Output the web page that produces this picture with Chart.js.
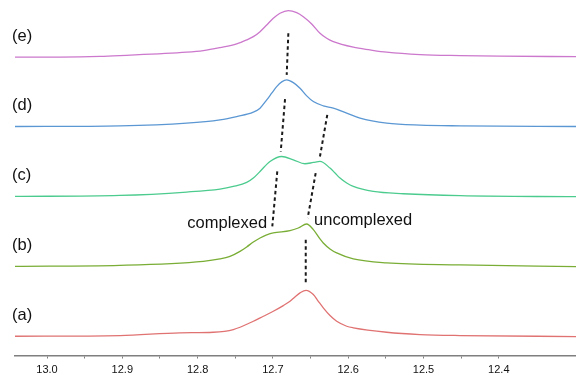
<!DOCTYPE html>
<html>
<head>
<meta charset="utf-8">
<script src="https://cdn.jsdelivr.net/npm/chart.js@4.4.1/dist/chart.umd.min.js"></script>
<style>
html,body{margin:0;padding:0;background:#fff;}
#wrap{width:576px;height:375px;position:relative;}
</style>
</head>
<body>
<div id="wrap"><canvas id="c" width="576" height="375"></canvas></div>
<script>
// ---- data (chemical shift in ppm, intensity above each trace's baseline) ----
const labelsSpectra = ['(a)', '(b)', '(c)', '(d)', '(e)'];
const offsets = [19, 89, 159, 229, 298.5];
const colors = ['#e07272', '#79ad35', '#4ccb8e', '#5b97d3', '#cc78cc'];

const ppmA = [13.0425, 12.9031, 12.8234, 12.7791, 12.7526, 12.7260, 12.7127, 12.6995, 12.6862, 12.6773, 12.6707, 12.6640, 12.6560, 12.6463, 12.6397, 12.6331, 12.6242, 12.6153, 12.6020, 12.5932, 12.5489, 12.5046, 12.4515, 12.2975];
const intA = [0.3, 1.0, 3.7, 4.3, 7.0, 15.3, 20.3, 25.3, 31.0, 35.3, 39.7, 43.7, 46.3, 42.0, 35.3, 28.7, 21.0, 15.3, 10.3, 8.7, 4.3, 2.0, 1.0, 0.0];

const ppmB = [13.0425, 12.9031, 12.7924, 12.7703, 12.7570, 12.7437, 12.7348, 12.7260, 12.7171, 12.7082, 12.6995, 12.6773, 12.6663, 12.6551, 12.6463, 12.6375, 12.6331, 12.6242, 12.6153, 12.5932, 12.5489, 12.4515, 12.2975];
const intB = [0.3, 1.3, 5.3, 7.7, 10.3, 15.3, 19.7, 24.7, 28.7, 31.7, 33.7, 36.0, 38.7, 42.7, 37.0, 27.7, 23.7, 17.7, 13.7, 7.7, 3.7, 1.7, 0.0];

const ppmC = [13.0425, 12.9031, 12.8145, 12.7703, 12.7526, 12.7348, 12.7260, 12.7171, 12.7039, 12.6883, 12.6729, 12.6574, 12.6463, 12.6375, 12.6242, 12.6175, 12.6109, 12.6020, 12.5932, 12.5667, 12.5268, 12.4515, 12.2975];
const intC = [0.3, 1.3, 4.7, 7.7, 10.3, 14.3, 18.7, 25.3, 35.3, 40.3, 37.0, 33.0, 34.3, 35.3, 28.7, 23.7, 18.7, 13.7, 10.3, 5.3, 3.0, 1.0, 0.0];

const ppmD = [13.0425, 12.9031, 12.8145, 12.7703, 12.7481, 12.7260, 12.7171, 12.7082, 12.7016, 12.6950, 12.6883, 12.6817, 12.6729, 12.6640, 12.6551, 12.6463, 12.6331, 12.6198, 12.6020, 12.5843, 12.5489, 12.5046, 12.4515, 12.2975];
const intD = [0.3, 1.0, 3.7, 7.0, 10.3, 14.7, 18.7, 27.0, 33.7, 40.3, 45.0, 47.0, 44.3, 38.7, 31.0, 25.3, 21.0, 18.7, 13.7, 8.7, 3.7, 1.7, 1.0, 0.3];

const ppmE = [13.0425, 12.9827, 12.9296, 12.9031, 12.8145, 12.7924, 12.7703, 12.7481, 12.7348, 12.7260, 12.7171, 12.7082, 12.6995, 12.6906, 12.6795, 12.6684, 12.6596, 12.6485, 12.6375, 12.6286, 12.6198, 12.5932, 12.5710, 12.5489, 12.5046, 12.4515, 12.3984, 12.2975];
const intE = [0.2, 0.3, 1.0, 1.8, 5.2, 6.8, 9.8, 13.5, 17.5, 20.8, 25.8, 32.5, 39.2, 44.2, 46.8, 44.8, 40.8, 33.5, 24.2, 19.2, 15.8, 10.2, 7.5, 5.2, 2.8, 1.8, 1.2, 0.8];

// dashed guide lines: [ppm1, y1, ppm2, y2]
const guides = [
  [12.6795, 322.7, 12.6817, 281.0],
  [12.6839, 256.7, 12.6896, 204.3],
  [12.6278, 241.0, 12.6375, 199.3],
  [12.6942, 184.3, 12.7008, 129.3],
  [12.6432, 182.7, 12.6538, 137.7],
  [12.6564, 116.0, 12.6564, 71.0]
];

// annotations: [text, ppm (left edge), y]
const notes = [
  ['complexed', 12.8137, 132],
  ['uncomplexed', 12.6454, 135.3]
];
const labelPpm = 13.0465;
const labelRise = 21;

const tickValues = [13.0, 12.95, 12.9, 12.85, 12.8, 12.75, 12.7, 12.65, 12.6, 12.55, 12.5, 12.45, 12.4];
const xMin = 12.2975, xMax = 13.0425;

// ---- build datasets ----
const spectra = [[ppmA, intA], [ppmB, intB], [ppmC, intC], [ppmD, intD], [ppmE, intE]];
const datasets = spectra.map(([px, iy], k) => ({
  data: px.map((x, i) => ({x: x, y: offsets[k] + iy[i]})),
  borderColor: colors[k],
  borderWidth: 1.3,
  pointRadius: 0,
  cubicInterpolationMode: 'monotone',
  fill: false
}));
guides.forEach(g => datasets.push({
  data: [{x: g[0], y: g[1]}, {x: g[2], y: g[3]}],
  borderColor: '#1a1a1a',
  borderWidth: 2,
  borderDash: [3.5, 3],
  pointRadius: 0,
  fill: false
}));

const textPlugin = {
  id: 'texts',
  afterDatasetsDraw(chart) {
    const ctx = chart.ctx, xs = chart.scales.x, ys = chart.scales.y;
    ctx.save();
    ctx.fillStyle = '#111';
    ctx.font = '16.5px "Liberation Sans", Arial, sans-serif';
    ctx.textAlign = 'left';
    ctx.textBaseline = 'middle';
    labelsSpectra.forEach((t, k) => {
      ctx.fillText(t, xs.getPixelForValue(labelPpm), ys.getPixelForValue(offsets[k] + labelRise));
    });
    notes.forEach(n => {
      ctx.fillText(n[0], xs.getPixelForValue(n[1]), ys.getPixelForValue(n[2]));
    });
    ctx.restore();
  }
};

new Chart(document.getElementById('c'), {
  type: 'line',
  data: {datasets: datasets},
  options: {
    responsive: false,
    animation: false,
    events: [],
    layout: {padding: {left: 15, right: 0, top: 0, bottom: 0}},
    plugins: {legend: {display: false}, tooltip: {enabled: false}},
    scales: {
      x: {
        type: 'linear',
        reverse: true,
        min: xMin,
        max: xMax,
        afterBuildTicks: s => { s.ticks = tickValues.map(v => ({value: v})); },
        afterFit: s => { s.height = 19.5; },
        ticks: {
          autoSkip: false,
          maxRotation: 0,
          padding: 5,
          color: '#111',
          font: {family: '"Liberation Sans", Arial, sans-serif', size: 11},
          callback: v => (Math.abs(v * 10 - Math.round(v * 10)) < 1e-6 ? v.toFixed(1) : '')
        },
        grid: {display: true, drawOnChartArea: false, drawTicks: true, tickLength: 3, color: '#7f7f7f', lineWidth: 1},
        border: {display: true, color: '#7f7f7f', width: 1.5}
      },
      y: {
        display: false,
        min: 0,
        max: 356
      }
    }
  },
  plugins: [textPlugin]
});
</script>
</body>
</html>
